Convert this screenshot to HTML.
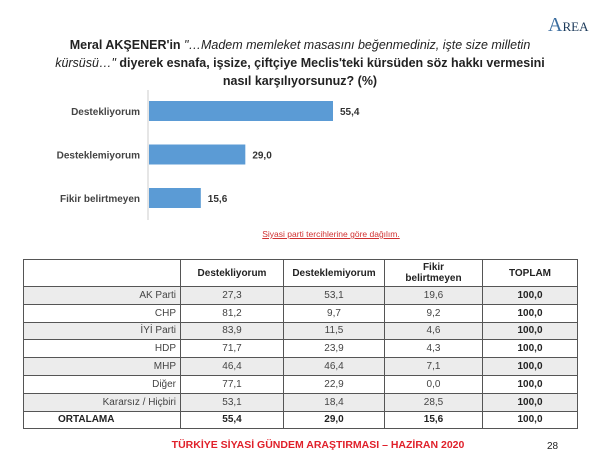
<!DOCTYPE html>
<html><head><meta charset="utf-8"><style>
body{margin:0;width:600px;height:461px;background:#fff;font-family:"Liberation Sans",sans-serif;position:relative;overflow:hidden;color:#222}
.abs{position:absolute}
#title{left:0;width:600px;top:36px;text-align:center;font-size:12.5px;font-weight:bold;line-height:18px;color:#222}
#title i{font-weight:normal}
table{position:absolute;left:23px;top:259px;border-collapse:collapse;font-size:10px;table-layout:fixed}
td{border:1.5px solid #555;height:16.8px;padding:0 4px;text-align:center;color:#444}
td.l{text-align:right}
tr.g td{background:#ececec}
tr.h td{height:26px;font-weight:bold;color:#222}
td.b{font-weight:bold;color:#222}
</style></head><body>
<div class="abs" style="left:548px;top:14px;font-family:'Liberation Serif',serif;font-size:13px;color:#1c3a5a"><span style="font-size:20px;color:#3c6ea0">A</span>REA</div>
<div id="title" class="abs">Meral AKŞENER'in <i>"…Madem memleket masasını beğenmediniz, işte size milletin<br>kürsüsü…"</i> diyerek esnafa, işsize, çiftçiye Meclis'teki kürsüden söz hakkı vermesini<br>nasıl karşılıyorsunuz? (%)</div>
<svg class="abs" style="left:0;top:0" width="600" height="240" id="chart"></svg>
<div class="abs" style="left:0;width:600px;text-align:center;top:229px;font-size:8.5px;color:#d03030;text-decoration:underline;padding-left:62px;box-sizing:border-box">Siyasi parti tercihlerine göre dağılım.</div>
<table>
<colgroup><col style="width:157px"><col style="width:103px"><col style="width:101px"><col style="width:98px"><col style="width:95px"></colgroup>
<tr class="h"><td></td><td>Destekliyorum</td><td>Desteklemiyorum</td><td style="line-height:11px">Fikir<br>belirtmeyen</td><td>TOPLAM</td></tr>
<tr class="g"><td class="l">AK Parti</td><td>27,3</td><td>53,1</td><td>19,6</td><td class="b">100,0</td></tr>
<tr><td class="l">CHP</td><td>81,2</td><td>9,7</td><td>9,2</td><td class="b">100,0</td></tr>
<tr class="g"><td class="l">İYİ Parti</td><td>83,9</td><td>11,5</td><td>4,6</td><td class="b">100,0</td></tr>
<tr><td class="l">HDP</td><td>71,7</td><td>23,9</td><td>4,3</td><td class="b">100,0</td></tr>
<tr class="g"><td class="l">MHP</td><td>46,4</td><td>46,4</td><td>7,1</td><td class="b">100,0</td></tr>
<tr><td class="l">Diğer</td><td>77,1</td><td>22,9</td><td>0,0</td><td class="b">100,0</td></tr>
<tr class="g"><td class="l">Kararsız / Hiçbiri</td><td>53,1</td><td>18,4</td><td>28,5</td><td class="b">100,0</td></tr>
<tr><td class="b" style="text-align:left;padding-left:34px">ORTALAMA</td><td class="b">55,4</td><td class="b">29,0</td><td class="b">15,6</td><td class="b">100,0</td></tr>
</table>
<div class="abs" style="left:0;width:600px;text-align:center;top:439px;font-size:10.5px;font-weight:bold;color:#e0202a;padding-left:36px;box-sizing:border-box">TÜRKİYE SİYASİ GÜNDEM ARAŞTIRMASI – HAZİRAN 2020</div>
<div class="abs" style="left:547px;top:441px;font-size:10px;color:#222">28</div>
<script>
const categories=["Destekliyorum","Desteklemiyorum","Fikir belirtmeyen"];
const values=[55.4,29.0,15.6];
const valueLabels=["55,4","29,0","15,6"];
const svg=document.getElementById('chart');
const NS='http://www.w3.org/2000/svg';
const x0=149, pxPerUnit=184/55.4;
const xScale=v=>x0+v*pxPerUnit;
const yScale=i=>101+i*43.5;
const ax=document.createElementNS(NS,'line');
ax.setAttribute('x1',148);ax.setAttribute('x2',148);ax.setAttribute('y1',90);ax.setAttribute('y2',220);
ax.setAttribute('stroke','#ccc');


svg.appendChild(ax);
categories.forEach((c,i)=>{
  const y=yScale(i);
  const r=document.createElementNS(NS,'rect');
  r.setAttribute('x',x0);r.setAttribute('y',y);r.setAttribute('width',xScale(values[i])-x0);r.setAttribute('height',20);
  r.setAttribute('fill','#5b9bd5');
  
  
  svg.appendChild(r);
  const t=document.createElementNS(NS,'text');
  t.setAttribute('x',140);t.setAttribute('y',y+14);t.setAttribute('text-anchor','end');
  t.setAttribute('font-size','10');t.setAttribute('font-weight','bold');t.setAttribute('fill','#444');
  t.textContent=c;
  
  
  svg.appendChild(t);
  const v=document.createElementNS(NS,'text');
  v.setAttribute('x',xScale(values[i])+7);v.setAttribute('y',y+14);
  v.setAttribute('font-size','10');v.setAttribute('font-weight','bold');v.setAttribute('fill','#333');
  v.textContent=valueLabels[i];
  
  
  svg.appendChild(v);
});
</script>
</body></html>
